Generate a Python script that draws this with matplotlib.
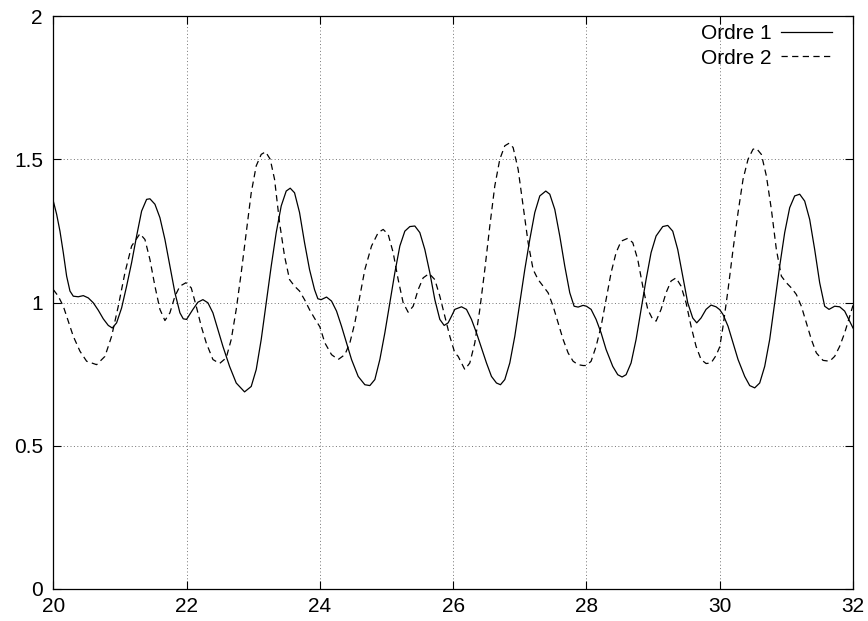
import matplotlib
matplotlib.use("Agg")
import matplotlib.pyplot as plt

# ---- data ----
x_ordre1 = [20.0, 20.05, 20.10, 20.15, 20.20, 20.25, 20.30, 20.375, 20.45, 20.525, 20.60, 20.675,
            20.75, 20.825, 20.885, 20.95, 21.025, 21.10, 21.175, 21.25, 21.325, 21.40, 21.45,
            21.525, 21.60, 21.675, 21.75, 21.825, 21.90, 21.95, 22.0,
            22.095, 22.17, 22.245, 22.32, 22.395, 22.47, 22.545, 22.645, 22.745, 22.87, 22.97,
            23.045, 23.12, 23.195, 23.27, 23.345, 23.42, 23.495, 23.555, 23.62, 23.695, 23.77,
            23.845, 23.92, 23.97, 24.02,
            24.10, 24.175, 24.25, 24.325, 24.40, 24.475, 24.575, 24.675, 24.75, 24.825, 24.90,
            24.975, 25.05, 25.125, 25.20, 25.275, 25.35, 25.425, 25.50, 25.575, 25.65, 25.725,
            25.80, 25.865, 25.925, 25.975, 26.025,
            26.125, 26.20, 26.275, 26.35, 26.425, 26.50, 26.575, 26.65, 26.71, 26.775, 26.85,
            26.925, 27.0, 27.075, 27.15, 27.225, 27.30, 27.39, 27.45, 27.525, 27.60, 27.675,
            27.75, 27.815, 27.875, 27.95, 28.0,
            28.07, 28.145, 28.22, 28.295, 28.395, 28.47, 28.535, 28.595, 28.67, 28.745, 28.82,
            28.895, 28.97, 29.045, 29.145, 29.22, 29.295, 29.37, 29.445, 29.52, 29.595, 29.655,
            29.72, 29.795, 29.87, 29.945, 30.0,
            30.05, 30.125, 30.20, 30.275, 30.375, 30.45, 30.525, 30.60, 30.675, 30.75, 30.825,
            30.90, 30.975, 31.05, 31.125, 31.20, 31.275, 31.35, 31.425, 31.50, 31.575, 31.64,
            31.725, 31.80, 31.875, 31.95, 32.0]
y_ordre1 = [1.354, 1.308, 1.249, 1.174, 1.092, 1.040, 1.022, 1.020, 1.024, 1.016, 0.999, 0.973,
            0.943, 0.920, 0.911, 0.929, 0.981, 1.057, 1.139, 1.232, 1.319, 1.360, 1.362,
            1.343, 1.296, 1.220, 1.127, 1.034, 0.964, 0.943, 0.941,
            0.976, 1.001, 1.010, 0.999, 0.964, 0.906, 0.847, 0.777, 0.719, 0.688, 0.707,
            0.766, 0.871, 0.999, 1.127, 1.244, 1.337, 1.389, 1.399, 1.383, 1.314, 1.209,
            1.115, 1.045, 1.013, 1.010,
            1.019, 1.005, 0.970, 0.917, 0.859, 0.801, 0.742, 0.713, 0.710, 0.731, 0.801,
            0.894, 0.999, 1.104, 1.197, 1.249, 1.265, 1.267, 1.244, 1.185, 1.104, 1.010,
            0.941, 0.920, 0.929, 0.952, 0.976,
            0.985, 0.976, 0.941, 0.894, 0.841, 0.789, 0.742, 0.719, 0.713, 0.731, 0.789,
            0.882, 0.999, 1.115, 1.220, 1.314, 1.372, 1.389, 1.378, 1.325, 1.232, 1.127,
            1.034, 0.987, 0.984, 0.990, 0.987,
            0.976, 0.941, 0.894, 0.836, 0.777, 0.748, 0.740, 0.748, 0.789, 0.871, 0.976,
            1.080, 1.174, 1.232, 1.265, 1.269, 1.249, 1.185, 1.092, 0.999, 0.946, 0.929,
            0.946, 0.976, 0.991, 0.985, 0.975,
            0.958, 0.917, 0.859, 0.801, 0.742, 0.710, 0.702, 0.719, 0.777, 0.871, 0.999,
            1.127, 1.244, 1.331, 1.372, 1.378, 1.354, 1.290, 1.185, 1.069, 0.987, 0.976,
            0.987, 0.985, 0.970, 0.935, 0.911]

x_ordre2 = [20.0, 20.075, 20.15, 20.225, 20.30, 20.40, 20.50, 20.65, 20.775, 20.875, 20.975,
            21.075, 21.175, 21.30, 21.375, 21.45, 21.525, 21.60, 21.675, 21.75, 21.825, 21.90,
            21.99,
            22.07, 22.145, 22.22, 22.295, 22.395, 22.495, 22.595, 22.67, 22.745, 22.82, 22.895,
            22.97, 23.045, 23.12, 23.185, 23.255, 23.32, 23.395, 23.47, 23.545, 23.62, 23.695,
            23.77, 23.845, 23.92, 24.0,
            24.075, 24.175, 24.275, 24.375, 24.45, 24.525, 24.60, 24.675, 24.775, 24.875, 24.95,
            25.025, 25.10, 25.175, 25.25, 25.325, 25.40, 25.475, 25.55, 25.64, 25.725, 25.80,
            25.875, 25.95, 26.025,
            26.075, 26.175, 26.25, 26.325, 26.40, 26.475, 26.55, 26.625, 26.70, 26.775, 26.84,
            26.90, 26.975, 27.05, 27.125, 27.20, 27.275, 27.35, 27.425, 27.50, 27.575, 27.65,
            27.725, 27.80, 27.875, 27.95, 28.0,
            28.07, 28.145, 28.22, 28.295, 28.37, 28.445, 28.52, 28.62, 28.695, 28.77, 28.845,
            28.92, 28.995, 29.045, 29.12, 29.195, 29.27, 29.345, 29.42, 29.495, 29.57, 29.645,
            29.72, 29.795, 29.87, 29.945, 30.0,
            30.05, 30.125, 30.20, 30.275, 30.35, 30.425, 30.50, 30.55, 30.625, 30.70, 30.775,
            30.85, 30.925, 31.0, 31.075, 31.15, 31.225, 31.30, 31.375, 31.45, 31.55, 31.65,
            31.725, 31.80, 31.875, 31.95, 32.0]
y_ordre2 = [1.045, 1.022, 0.987, 0.935, 0.882, 0.830, 0.795, 0.783, 0.812, 0.882, 0.987,
            1.104, 1.197, 1.240, 1.220, 1.150, 1.057, 0.976, 0.937, 0.964, 1.022, 1.057,
            1.069,
            1.051, 0.987, 0.917, 0.859, 0.801, 0.787, 0.807, 0.871, 0.976, 1.104, 1.244,
            1.383, 1.477, 1.517, 1.526, 1.500, 1.430, 1.279, 1.162, 1.080, 1.057, 1.040,
            1.010, 0.975, 0.945, 0.915,
            0.859, 0.818, 0.801, 0.818, 0.859, 0.929, 1.022, 1.115, 1.197, 1.244, 1.255,
            1.238, 1.174, 1.080, 0.999, 0.966, 0.987, 1.045, 1.086, 1.101, 1.080, 1.022,
            0.952, 0.882, 0.824,
            0.812, 0.766, 0.789, 0.859, 0.976, 1.115, 1.267, 1.407, 1.500, 1.547, 1.556,
            1.541, 1.465, 1.337, 1.209, 1.115, 1.080, 1.057, 1.034, 0.987, 0.929, 0.871,
            0.824, 0.795, 0.783, 0.780, 0.780,
            0.795, 0.847, 0.917, 1.010, 1.104, 1.174, 1.214, 1.224, 1.209, 1.150, 1.057,
            0.976, 0.941, 0.935, 0.976, 1.034, 1.075, 1.086, 1.057, 0.999, 0.917, 0.847,
            0.801, 0.787, 0.789, 0.815, 0.845,
            0.917, 1.045, 1.185, 1.314, 1.430, 1.500, 1.535, 1.538, 1.517, 1.442, 1.325,
            1.185, 1.092, 1.069, 1.051, 1.028, 0.987, 0.929, 0.871, 0.824, 0.798, 0.795,
            0.812, 0.847, 0.894, 0.952, 0.990]

labels = ["Ordre 1", "Ordre 2"]
x_ticks = [20, 22, 24, 26, 28, 30, 32]
x_tick_labels = ["20", "22", "24", "26", "28", "30", "32"]
y_ticks = [0, 0.5, 1, 1.5, 2]
y_tick_labels = ["0", "0.5", "1", "1.5", "2"]

# ---- figure ----
plt.rcParams['font.family'] = ['Liberation Sans', 'DejaVu Sans']
fig = plt.figure(figsize=(8.68, 6.21), dpi=100)
ax = fig.add_axes([53.3 / 868, (621 - 589) / 621, 799.7 / 868, (589 - 16) / 621])

ax.plot(x_ordre1, y_ordre1, color='black', lw=0.9, label=labels[0])
ax.plot(x_ordre2, y_ordre2, color='black', lw=0.9, linestyle=(0, (5, 3.5)), label=labels[1])

ax.set_xlim(20, 32)
ax.set_ylim(0, 2)
ax.set_xticks(x_ticks)
ax.set_xticklabels(x_tick_labels)
ax.set_yticks(y_ticks)
ax.set_yticklabels(y_tick_labels)
ax.tick_params(direction='in', length=5.5, width=0.8, top=True, right=True,
               labelsize=15, colors='black')
ax.tick_params(axis='x', pad=5.5)
ax.tick_params(axis='y', pad=7.5)
ax.grid(True, color='0.45', linestyle=(0, (1, 2.5)), linewidth=0.7)
for sp in ax.spines.values():
    sp.set_linewidth(0.9)
    sp.set_color('black')

leg = ax.legend(loc='upper right', frameon=False, markerfirst=False, fontsize=15,
                handlelength=2.45, handletextpad=0.45, labelspacing=0.27,
                borderaxespad=0.0, borderpad=0.1,
                bbox_to_anchor=(1 - 18.7 / 799.7, 1 - 6.0 / 573))

fig.savefig("out.png", dpi=100)
